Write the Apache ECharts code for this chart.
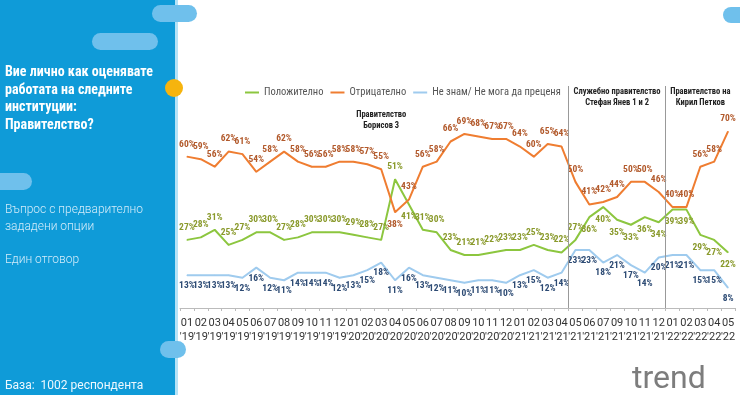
<!DOCTYPE html>
<html>
<head>
<meta charset="utf-8">
<script src="https://cdn.jsdelivr.net/npm/echarts@6/dist/echarts.min.js"></script>
<style>
html,body{margin:0;padding:0;background:#fff;}
#chart{width:740px;height:395px;}
</style>
</head>
<body>
<div id="chart"></div>
<script>
const categories = [
 "01 '19","02 '19","03 '19","04 '19","05 '19","06 '19","07 '19","08 '19","09 '19","10 '19","11 '19","12 '19",
 "01 '20","02 '20","03 '20","04 '20","05 '20","06 '20","07 '20","08 '20","09 '20","10 '20","11 '20","12 '20",
 "01 '21","02 '21","03 '21","04 '21","05 '21","06 '21","07 '21","09 '21","10 '21","11 '21","12 '21",
 "01 '22","02 '22","03 '22","04 '22","05 '22"
];
const positive = [27,28,31,25,27,30,30,27,28,30,30,30, 29,28,27,51,41,31,30,23,21,21,22,23, 23,25,23,22, 27,36,40,35,33,36,34, 39,39,29,27,22];
const negative = [60,59,56,62,61,54,58,62,58,56,56,58, 58,57,55,38,43,56,58,66,69,68,67,67, 64,60,65,64, 50,41,42,44,50,50,46, 40,40,56,58,70];
const dontKnow = [13,13,13,13,12,16,12,11,14,14,14,12, 13,15,18,11,16,13,12,11,10,11,11,10, 13,15,12,14, 23,23,18,21,17,14,20, 21,21,15,15,8];
const seriesNames = ["Положително","Отрицателно","Не знам/ Не мога да преценя"];
const periodDividers = [28, 35];
const periodNotes = [
  {text:"Правителство\nБорисов 3", at:14.5, y:120},
  {text:"Служебно правителство\nСтефан Янев 1 и 2", at:31.5, y:97},
  {text:"Правителство на\nКирил Петков", at:37.5, y:97}
];
const positiveBelowFrom = 29;
const positiveBelowExtra = [16];
const negativeBelow = [15];

const COND = "'Roboto Condensed','Liberation Sans Narrow','DejaVu Sans Condensed',Roboto,sans-serif";
const chart = echarts.init(document.getElementById('chart'));

const gridLeft = 180, gridRight = 5, gridTop = 86, gridBottom = 87;
const gridW = 740 - gridLeft - gridRight;

const posData = positive.map((v,i)=>({value:v, label:{position: (i>=positiveBelowFrom || positiveBelowExtra.includes(i))?'bottom':'top'}}));
const negData = negative.map((v,i)=>({value:v, label:{position: negativeBelow.includes(i)?'bottom':'top'}}));

const graphics = [
  {type:'rect', shape:{x:0,y:0,width:175,height:395}, style:{fill:'#0f9bd8'}, z:0},
  {type:'rect', shape:{x:175,y:0,width:3,height:395}, style:{fill:'#b5e3f7'}, z:0},
  {type:'rect', shape:{x:152,y:5,width:45,height:17,r:8.5}, style:{fill:'#6fc0ec'}, z:1},
  {type:'rect', shape:{x:92,y:33,width:66,height:17,r:8.5}, style:{fill:'#6fc0ec'}, z:1},
  {type:'rect', shape:{x:-10,y:173,width:42,height:17,r:8.5}, style:{fill:'#6fc0ec'}, z:1},
  {type:'rect', shape:{x:160,y:341,width:26,height:17,r:8.5}, style:{fill:'#6fc0ec'}, z:1},
  {type:'rect', shape:{x:723,y:7,width:30,height:16,r:8}, style:{fill:'#6fc0ec'}, z:1},
  {type:'circle', shape:{cx:174,cy:88,r:9}, style:{fill:'#f6b40e'}, z:2},
  {type:'text', left:5, top:64, style:{text:"Вие лично как оценявате\nработата на следните\nинституции:\nПравителство?", fill:'#fff', font:"bold 14px "+COND, lineHeight:17.5}, z:3},
  {type:'text', left:5, top:201, style:{text:"Въпрос с предварително\nзададени опции", fill:'#d3ecfa', font:"300 12px Roboto,sans-serif", lineHeight:17.5}, z:3},
  {type:'text', left:5, top:254, style:{text:"Един отговор", fill:'#d3ecfa', font:"300 12px Roboto,sans-serif"}, z:3},
  {type:'text', left:5, top:380, style:{text:"База:  1002 респондента", fill:'#eef8fe', font:"12px Roboto,sans-serif"}, z:3},
  {type:'text', left:632, top:364, style:{text:"trend", fill:'#7d7d7d', font:"32px Roboto,sans-serif"}, z:3}
];
periodNotes.forEach(n=>{
  graphics.push({type:'text', x: gridLeft + n.at*gridW/categories.length, y:n.y,
    style:{text:n.text, fill:'#222', font:"bold 8.5px "+COND, align:'center', verticalAlign:'middle', lineHeight:11}, z:3});
});

const lbl = (color, pos, dist) => ({show:true, position:pos, distance:dist, formatter:'{c}%', color:color,
  fontSize:9.5, fontWeight:'bold', fontFamily:COND});

chart.setOption({
  animation:false,
  backgroundColor:'#fff',
  graphic: graphics,
  legend:{
    data: seriesNames, top:82, left:240, icon:'rect', itemWidth:14, itemHeight:2, itemGap:7,
    textStyle:{color:'#555', fontSize:10.5, fontFamily:COND}
  },
  grid:{left:gridLeft, right:gridRight, top:gridTop, bottom:gridBottom},
  xAxis:[
    {type:'category', data:categories, boundaryGap:true,
     axisLine:{lineStyle:{color:'#bbb'}}, axisTick:{show:true, interval:0, length:3, lineStyle:{color:'#bbb'}},
     axisLabel:{interval:0, margin:8, color:'#333', fontSize:11, fontFamily:'Roboto,sans-serif', lineHeight:14,
       formatter: v => v.replace(' ', '\n')}},
    {type:'value', min:0, max:categories.length, show:false}
  ],
  yAxis:{type:'value', min:0, max:88, show:false},
  series:[
    {name:seriesNames[0], type:'line', data:posData, symbol:'circle', symbolSize:1,
     lineStyle:{color:'#8cc63f', width:2}, itemStyle:{color:'#8cc63f'}, label:lbl('#8a9a2c','top',7)},
    {name:seriesNames[1], type:'line', data:negData, symbol:'circle', symbolSize:1,
     lineStyle:{color:'#ef7d31', width:2}, itemStyle:{color:'#ef7d31'}, label:lbl('#b25a2c','top',7)},
    {name:seriesNames[2], type:'line', data:dontKnow, symbol:'circle', symbolSize:1,
     lineStyle:{color:'#9fcbee', width:2}, itemStyle:{color:'#9fcbee'}, label:lbl('#2d4b74','bottom',5)},
    {type:'line', xAxisIndex:1, data:[], silent:true,
     markLine:{symbol:'none', silent:true, label:{show:false},
       lineStyle:{color:'#999', type:'solid', width:1},
       data: periodDividers.map(d=>({xAxis:d}))}}
  ]
});
</script>
</body>
</html>
